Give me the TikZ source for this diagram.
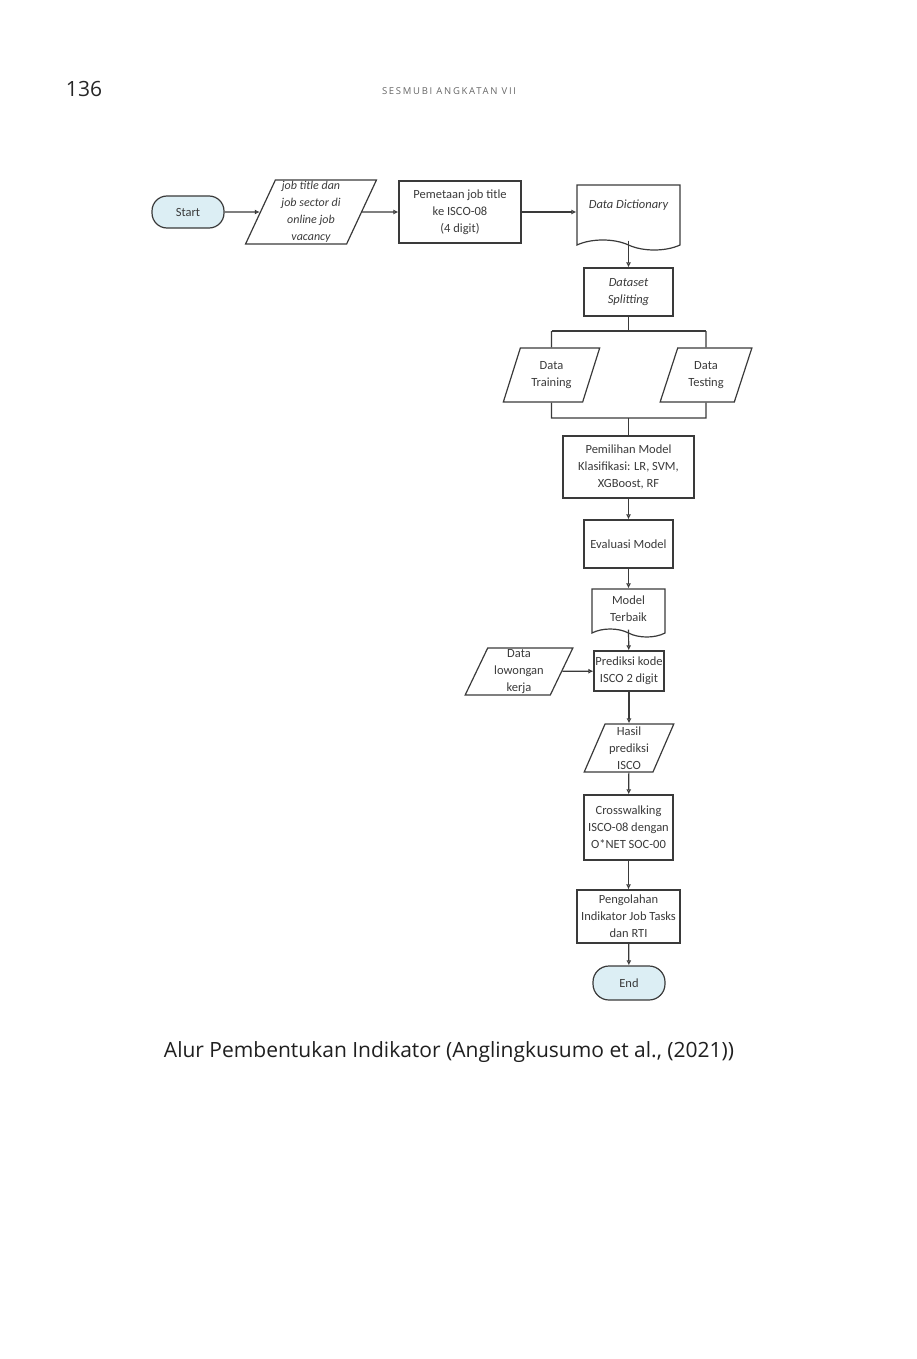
\documentclass[tikz,border=0pt]{standalone}
\usepackage{fontspec}
\setmainfont{Carlito}
\newfontfamily\captionfont{Open Sans}
\newfontfamily\headfont[LetterSpace=18]{Open Sans}
\usetikzlibrary{arrows.meta,shapes.geometric,shapes.symbols}

\definecolor{linegray}{HTML}{3A3A3A}
\definecolor{termblue}{HTML}{DCEEF4}
\definecolor{textgray}{HTML}{3A3A3A}

\tikzset{
    box/.style = {draw = linegray, line width = 1.2pt, text = textgray,
        align = center, inner sep = 0pt, font = \fontsize{12.5}{17}\selectfont},
    process/.style = {box, rectangle},
    io/.style = {box, trapezium, trapezium left angle = 68,
        trapezium right angle = 112, trapezium stretches = true},
    doc/.style = {box, tape, tape bend top = none,
        tape bend bottom = out and in, tape bend height = 10pt},
    terminal/.style = {box, rectangle, rounded corners = 15pt,
        fill = termblue},
    flow/.style = {draw = linegray, line width = 1.2pt,
        -{Latex[open, length = 5pt, width = 5pt]}},
    link/.style = {draw = linegray, line width = 1.2pt}
}

\begin{document}
\begin{tikzpicture}[x = 1pt, y = -1pt]

        % Page frame.
        \useasboundingbox (0, 0) rectangle (916, 1359);

        % Running head and page number.
        \node[font = \captionfont\fontsize{21}{24}\selectfont, text = black!85] (page) at (84, 89) {136};
        \node[font = \headfont\fontsize{9.5}{11}\selectfont, text = black!60] (head) at (449, 91) {SESMUBI ANGKATAN VII};

        % Top row.
        \node[terminal, minimum width = 72, minimum height = 32] (start) at (188, 212) {Start};
        \node[io, minimum width = 131, minimum height = 64, font = \fontsize{12}{17}\selectfont\itshape] (src) at (311, 212)
            {job title dan\\job sector di\\online job\\vacancy};
        \node[process, minimum width = 122, minimum height = 62] (map) at (460, 212)
            {Pemetaan job title\\ke ISCO-08\\(4 digit)};
        \node[doc, minimum width = 103, minimum height = 65, text depth = 16pt,
            font = \fontsize{12.5}{17}\selectfont\itshape] (dict) at (628.5, 212.5)
            {Data Dictionary};

        % Splitting and the two data sets.
        \node[process, minimum width = 89, minimum height = 48, font = \fontsize{12.5}{17}\selectfont\itshape] (split) at (628.5, 292)
            {Dataset\\Splitting};
        \node[io, minimum width = 97, minimum height = 54] (train) at (551.5, 375) {Data\\Training};
        \node[io, minimum width = 92, minimum height = 54] (test) at (706, 375) {Data\\Testing};

        \coordinate (sp) at (628.5, 331);
        \coordinate (spL) at (551.5, 331);
        \coordinate (spR) at (706, 331);
        \coordinate (mg) at (628.5, 418);
        \coordinate (mgL) at (551.5, 418);
        \coordinate (mgR) at (706, 418);

        % Model chain.
        \node[process, minimum width = 131, minimum height = 62] (pick) at (628.5, 467)
            {Pemilihan Model\\Klasifikasi: LR, SVM,\\XGBoost, RF};
        \node[process, minimum width = 89, minimum height = 48] (eval) at (628.5, 544) {Evaluasi Model};
        \node[doc, minimum width = 73, minimum height = 48, tape bend height = 8pt] (best) at (628.5, 609)
            {Model\\Terbaik};
        \node[process, minimum width = 70, minimum height = 40] (pred) at (629, 671)
            {Prediksi kode\\ISCO 2 digit};
        \node[io, minimum width = 108, minimum height = 47] (vac) at (519, 671.5)
            {Data\\lowongan\\kerja};
        \node[io, minimum width = 90, minimum height = 48] (res) at (629, 748)
            {Hasil\\prediksi\\ISCO};
        \node[process, minimum width = 89, minimum height = 65] (cross) at (628.5, 827.5)
            {Crosswalking\\ISCO-08 dengan\\O*NET SOC-00};
        \node[process, minimum width = 103, minimum height = 53] (rti) at (628.5, 916.5)
            {Pengolahan\\Indikator Job Tasks\\dan RTI};
        \node[terminal, minimum width = 72, minimum height = 34, rounded corners = 16pt] (end) at (629, 983) {End};

        % Connectors.
        \draw[flow] (start) -- (src);
        \draw[flow] (src) -- (map);
        \draw[flow] (map) -- (map -| dict.west);
        \draw[flow] (dict.south) -- (split);
        \draw[link] (split) -- (sp);
        \draw[link] (spL) -- (spR);
        \draw[link] (spL) -- (train.north);
        \draw[link] (spR) -- (test.north);
        \draw[link] (train.south) -- (mgL) -- (mgR) -- (test.south);
        \draw[link] (mg) -- (pick);
        \draw[flow] (pick) -- (eval);
        \draw[flow] (eval) -- (best);
        \draw[flow] (best.south) -- (pred);
        \draw[flow] (vac) -- (pred);
        \draw[flow] (pred) -- (res);
        \draw[flow] (res) -- (cross);
        \draw[flow] (cross) -- (rti);
        \draw[flow] (rti) -- (end);

        % Caption.
        \node[font = \captionfont\fontsize{21}{24}\selectfont, text = black!88] (caption) at (449, 1052)
            {Alur Pembentukan Indikator (Anglingkusumo et al., (2021))};
    \end{tikzpicture}
\end{document}
